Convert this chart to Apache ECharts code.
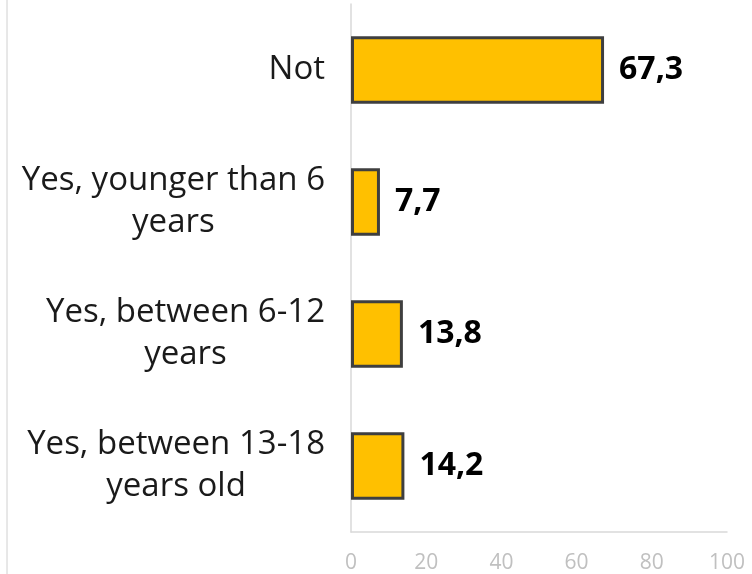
<!DOCTYPE html>
<html>
<head>
<meta charset="utf-8">
<script src="https://cdn.jsdelivr.net/npm/echarts@6/dist/echarts.min.js"></script>
<style>html,body{margin:0;padding:0;background:#fff}#c{width:752px;height:574px}</style>
</head>
<body>
<div id="c"></div>
<script>
const categories = ["Not", "Yes, younger than 6\nyears", "Yes, between 6-12\nyears", "Yes, between 13-18\nyears old"];
const values = [67.3, 7.7, 13.8, 14.2];
const xTicks = [0, 20, 40, 60, 80, 100];

const chart = echarts.init(document.getElementById('c'));
chart.setOption({
  animation: false,
  grid: { left: 351, right: 25, top: 4, bottom: 41, containLabel: false },
  graphic: [{
    type: 'line', shape: { x1: 7, y1: 0, x2: 7, y2: 574 },
    style: { stroke: '#d0d0d0', lineWidth: 1 }
  }],
  xAxis: {
    type: 'value', min: xTicks[0], max: xTicks[xTicks.length - 1], interval: 20,
    axisLine: { show: true, lineStyle: { color: '#d9d9d9', width: 1.5 } },
    axisTick: { show: false },
    splitLine: { show: false },
    axisLabel: { color: '#c0c0c0', fontFamily: 'Open Sans', fontSize: 21, margin: 21 }
  },
  yAxis: {
    type: 'category', inverse: true, data: categories,
    axisLine: { show: true, lineStyle: { color: '#d9d9d9', width: 1.5 } },
    axisTick: { show: false },
    axisLabel: {
      margin: 26, color: '#1a1a1a', fontFamily: 'Open Sans', fontSize: 33, lineHeight: 42,
      formatter: function (v) { return v.split('\n').map(function (l) { return '{c|' + l + '}'; }).join('\n'); },
      rich: { c: { align: 'center', fontFamily: 'Open Sans', fontSize: 33, lineHeight: 42, color: '#1a1a1a' } }
    }
  },
  series: [{
    type: 'bar', data: values, barWidth: '51%',
    itemStyle: { color: '#ffc000', borderColor: '#3f3f3f', borderWidth: 3 },
    label: {
      show: true, position: 'right', distance: 15, color: '#000', fontFamily: 'Open Sans',
      fontWeight: 'bold', fontSize: 32,
      formatter: function (p) { return p.value.toFixed(1).replace('.', ','); }
    }
  }]
});
</script>
</body>
</html>
